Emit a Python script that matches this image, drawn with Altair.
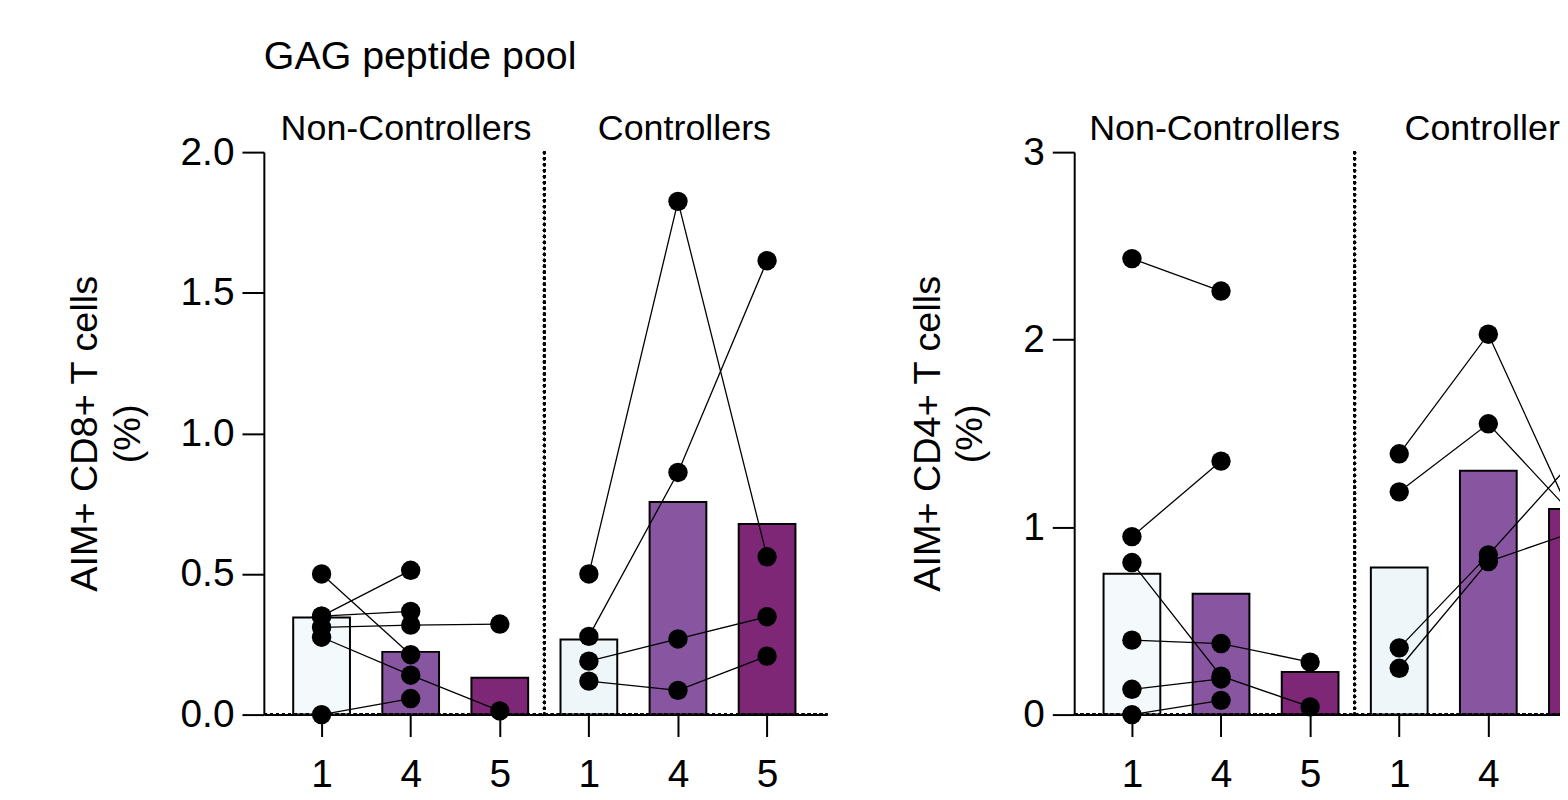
import altair as alt
import pandas as pd

FONT = "Liberation Sans"

# ---- data -------------------------------------------------------------
tick_labels = ["1", "4", "5", "1", "4", "5"]
group_names = ["Non-Controllers", "Controllers"]

# CD8 panel, subject values at conditions 1, 4, 5 (None = not measured)
cd8_nc_subjects = ["A", "B", "C", "D", "E", "F"]
cd8_nc_c1 = [0.50, 0.35, 0.35, 0.31, 0.275, 0.0]
cd8_nc_c4 = [0.213, 0.513, 0.367, 0.318, 0.14, 0.057]
cd8_nc_c5 = [None, None, None, 0.322, 0.013, None]

cd8_c_subjects = ["G", "H", "I", "J"]
cd8_c_c1 = [0.50, 0.278, 0.19, 0.119]
cd8_c_c4 = [1.825, 0.861, 0.269, 0.086]
cd8_c_c5 = [0.561, 1.614, 0.348, 0.208]

cd8_bars = [0.345, 0.223, 0.131, 0.267, 0.756, 0.678]

# CD4 panel
cd4_nc_subjects = ["K", "L", "M", "N", "O", "P"]
cd4_nc_c1 = [2.432, 0.949, 0.811, 0.397, 0.135, 0.0]
cd4_nc_c4 = [2.259, 1.352, 0.205, 0.379, 0.19, 0.076]
cd4_nc_c5 = [None, None, 0.041, 0.28, None, None]

cd4_c_subjects = ["Q", "R", "S", "T"]
cd4_c_c1 = [1.391, 1.188, 0.356, 0.247]
cd4_c_c4 = [2.029, 1.551, 0.852, 0.816]
cd4_c_c5 = [0.99, 1.04, 1.38, 0.98]

cd4_bars = [0.751, 0.644, 0.227, 0.784, 1.301, 1.096]

bar_colors = ["#F4F9FC", "#8856A1", "#7F2777", "#EEF6F9", "#8856A1", "#7F2777"]

STEP = 89.5          # pixels per condition
PAD0 = 0.648         # left padding, in condition units
FULL_W = 566


def points_frame(subjects, c1, c4, c5, offset):
    rows = []
    for s, a, b, c in zip(subjects, c1, c4, c5):
        for k, v in enumerate([a, b, c]):
            if v is not None:
                rows.append({"subject": s, "idx": offset + k, "value": v})
    return rows


def panel(bars, nc, c, ymax, yticks, yfmt, ytitle, title=None,
          width=FULL_W, label_x=(-0.46, 3.1)):
    cut = width < FULL_W
    xmax = -PAD0 + width / STEP
    bar_df = pd.DataFrame({"idx": list(range(6)), "value": bars,
                           "color": bar_colors})
    pts = pd.DataFrame(points_frame(*nc, 0) + points_frame(*c, 3))

    xscale = alt.Scale(domain=[-PAD0, xmax], nice=False, zero=False,
                       padding=0)
    yscale = alt.Scale(domain=[0, ymax], nice=False, padding=0)
    xaxis = alt.Axis(values=[i for i in range(6) if i <= xmax],
                     labelExpr="%s[datum.value]" % str(tick_labels),
                     title=None)
    yaxis = alt.Axis(values=yticks, format=yfmt, title=ytitle)

    base_x = alt.X("idx:Q", scale=xscale, axis=xaxis)

    bars_l = alt.Chart(bar_df).mark_bar(size=57, stroke="black",
                                        strokeWidth=2, clip=True).encode(
        x=base_x,
        y=alt.Y("value:Q", scale=yscale, axis=yaxis),
        color=alt.Color("color:N", scale=None),
    )
    zero_rule = alt.Chart(bar_df).mark_rule(
        color="black", strokeWidth=3, strokeDash=[0.5, 5.5],
        strokeCap="round", clip=True).encode(y=alt.datum(0))
    divider = alt.Chart(bar_df).mark_rule(
        color="black", strokeWidth=3, strokeDash=[0.5, 5.5],
        strokeCap="round").encode(x=alt.datum(2.5), y=alt.datum(0),
                                  y2=alt.datum(ymax))
    lines = alt.Chart(pts).mark_line(color="black", strokeWidth=1.3,
                                     clip=True).encode(
        x="idx:Q", y="value:Q", detail="subject:N")
    layers = [bars_l, zero_rule, divider, lines]
    if cut:
        # points beyond the cut edge are clipped by the plot area
        inner = alt.Chart(pts).transform_filter(f"datum.idx <= {xmax - 0.2}")
        outer = alt.Chart(pts).transform_filter(f"datum.idx > {xmax - 0.2}")
        layers.append(inner.mark_circle(size=380, color="black",
                                        opacity=1).encode(x="idx:Q",
                                                          y="value:Q"))
        layers.append(outer.mark_circle(size=380, color="black", opacity=1,
                                        clip=True).encode(x="idx:Q",
                                                          y="value:Q"))
    else:
        layers.append(alt.Chart(pts).mark_circle(
            size=380, color="black", opacity=1).encode(x="idx:Q",
                                                       y="value:Q"))
    for gx, gname in zip(label_x, group_names):
        text_kw = dict(font=FONT, fontSize=36, baseline="bottom", dy=-4,
                       align="left", color="black")
        if cut and gx + 2.0 > xmax:
            text_kw.update(limit=(xmax - gx) * STEP, ellipsis="\u200b")
        lab_df = pd.DataFrame({"idx": [gx], "label": [gname], "y": [ymax]})
        layers.append(alt.Chart(lab_df).mark_text(**text_kw).encode(
            x="idx:Q", y="y:Q", text="label:N"))

    ch = alt.layer(*layers).properties(width=width, height=565)
    if title:
        ch = ch.properties(title=alt.TitleParams(
            title, anchor="start", frame="group", fontSize=39.5, font=FONT,
            fontWeight="normal", offset=34, color="black"))
    return ch


left = panel(cd8_bars,
             (cd8_nc_subjects, cd8_nc_c1, cd8_nc_c4, cd8_nc_c5),
             (cd8_c_subjects, cd8_c_c1, cd8_c_c4, cd8_c_c5),
             2.0, [0, 0.5, 1.0, 1.5, 2.0], ".1f",
             ["AIM+ CD8+ T cells", "(%)"], title="GAG peptide pool",
             label_x=(-0.46, 3.1))
right = panel(cd4_bars,
              (cd4_nc_subjects, cd4_nc_c1, cd4_nc_c4, cd4_nc_c5),
              (cd4_c_subjects, cd4_c_c1, cd4_c_c4, cd4_c_c5),
              3.0, [0, 1, 2, 3], "d",
              ["AIM+ CD4+ T cells", "(%)"], width=488,
              label_x=(-0.48, 3.06))

chart = alt.hconcat(left, right, spacing=82).properties(
    padding={"left": 58, "top": 27, "right": 0, "bottom": 0}
).configure_view(stroke=None).configure_axis(
    domainColor="black", domainWidth=2, tickColor="black", tickWidth=2,
    tickSize=22, labelFont=FONT, labelFontSize=39, labelColor="black",
    titleFont=FONT, titleFontSize=38, titleFontWeight="normal",
    titleColor="black", titleLineHeight=43, grid=False,
).configure_axisY(labelPadding=8, titlePadding=33).configure_axisX(
    labelPadding=19)

chart.save("out.html", embed_options={"renderer": "svg", "actions": False})
